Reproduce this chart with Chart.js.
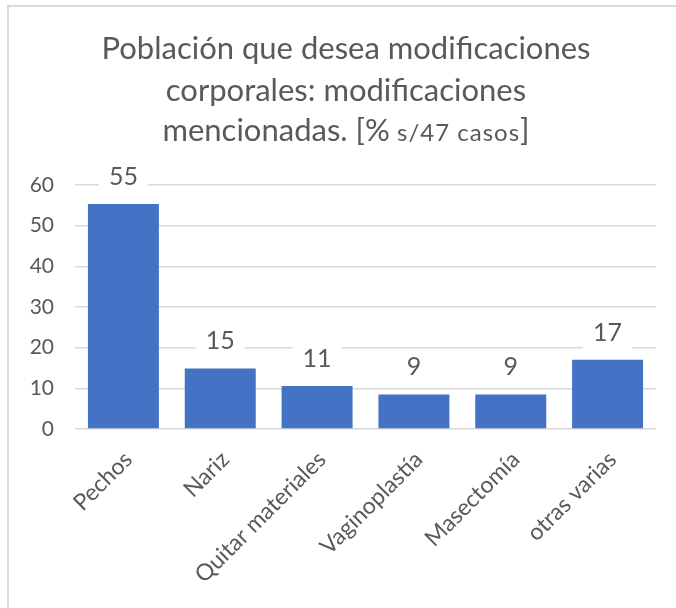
<!DOCTYPE html>
<html>
<head>
<meta charset="utf-8">
<script src="https://cdn.jsdelivr.net/npm/chart.js@4.4.1/dist/chart.umd.min.js"></script>
<style>
  html, body { margin: 0; padding: 0; background: #ffffff; overflow: hidden; }
  #wrap { position: relative; width: 676px; height: 608px; }
  #frame { position: absolute; left: 7px; top: 5px; width: 1000px; height: 1000px;
           border: 2px solid #d9d9d9; pointer-events: none; }
  canvas { position: absolute; left: 0; top: 0; }
</style>
</head>
<body>
<div id="wrap">
  <canvas id="c" width="676" height="608"></canvas>
  <div id="frame"></div>
</div>
<script>
// ---- data ----
const categories = ["Pechos", "Nariz", "Quitar materiales", "Vaginoplastía", "Masectomía", "otras varias"];
const values = [55.3, 14.9, 10.6, 8.5, 8.5, 17.0];
const yTicks = [0, 10, 20, 30, 40, 50, 60];
const titleLine1 = "Población que desea modificaciones";
const titleLine2 = "corporales: modificaciones";
const titleLine3 = ["mencionadas. [%", " s/47 casos", "]"];

const FONT = "Lato, 'Open Sans', sans-serif";
const TEXT = "#595959";

const titlePlugin = {
  id: 'customTitle',
  afterDraw(chart) {
    const ctx = chart.ctx;
    const cx = 346;
    ctx.save();
    ctx.fillStyle = TEXT;
    ctx.textBaseline = 'alphabetic';
    ctx.textAlign = 'center';
    ctx.font = "31px " + FONT;
    ctx.fillText(titleLine1, cx, 59);
    ctx.fillText(titleLine2, cx, 101);
    // third line with mixed sizes
    const fonts = ["31px " + FONT, "24px " + FONT, "31px " + FONT];
    const spacing = ["0px", "1px", "0px"];
    const widths = titleLine3.map((t, i) => {
      ctx.font = fonts[i]; ctx.letterSpacing = spacing[i];
      return ctx.measureText(t).width;
    });
    const total = widths.reduce((a, b) => a + b, 0);
    let x = cx - total / 2;
    ctx.textAlign = 'left';
    titleLine3.forEach((t, i) => {
      ctx.font = fonts[i]; ctx.letterSpacing = spacing[i];
      ctx.fillText(t, x, 141);
      x += widths[i];
    });
    ctx.restore();
  }
};

const labelPlugin = {
  id: 'barLabels',
  afterDatasetsDraw(chart) {
    const ctx = chart.ctx;
    const meta = chart.getDatasetMeta(0);
    ctx.save();
    ctx.font = "25px " + FONT;
    ctx.textAlign = 'center';
    ctx.textBaseline = 'alphabetic';
    meta.data.forEach((bar, i) => {
      const txt = String(Math.round(chart.data.datasets[0].data[i]));
      const w = ctx.measureText(txt).width;
      const base = bar.y - 19;
      ctx.fillStyle = '#ffffff';
      ctx.fillRect(bar.x - w / 2 - 10, base - 24, w + 20, 33);
      ctx.fillStyle = TEXT;
      ctx.fillText(txt, bar.x, base);
    });
    ctx.restore();
  }
};

new Chart(document.getElementById('c'), {
  type: 'bar',
  data: {
    labels: categories,
    datasets: [{
      data: values,
      backgroundColor: '#4472C4',
      borderWidth: 0,
      barPercentage: 0.733,
      categoryPercentage: 1.0
    }]
  },
  options: {
    responsive: false,
    animation: false,
    devicePixelRatio: 1,
    layout: { padding: { left: 0, right: 20, top: 185, bottom: 0 } },
    plugins: {
      legend: { display: false },
      title: { display: false },
      tooltip: { enabled: false }
    },
    scales: {
      y: {
        min: 0, max: 60,
        afterBuildTicks(scale) { scale.ticks = yTicks.map(v => ({ value: v })); },
        afterFit(scale) { scale.width = 75; },
        border: { display: false },
        grid: { color: '#d9d9d9', lineWidth: 1.5, drawTicks: false },
        ticks: { color: TEXT, font: { family: FONT, size: 21 }, padding: 21 }
      },
      x: {
        afterFit(scale) { scale.height = 179; },
        border: { display: false },
        grid: { display: false, drawTicks: false },
        ticks: { color: TEXT, font: { family: FONT, size: 23 }, minRotation: 45, maxRotation: 45,
                 padding: 17, labelOffset: 5, autoSkip: false }
      }
    }
  },
  plugins: [titlePlugin, labelPlugin]
});
</script>
</body>
</html>
